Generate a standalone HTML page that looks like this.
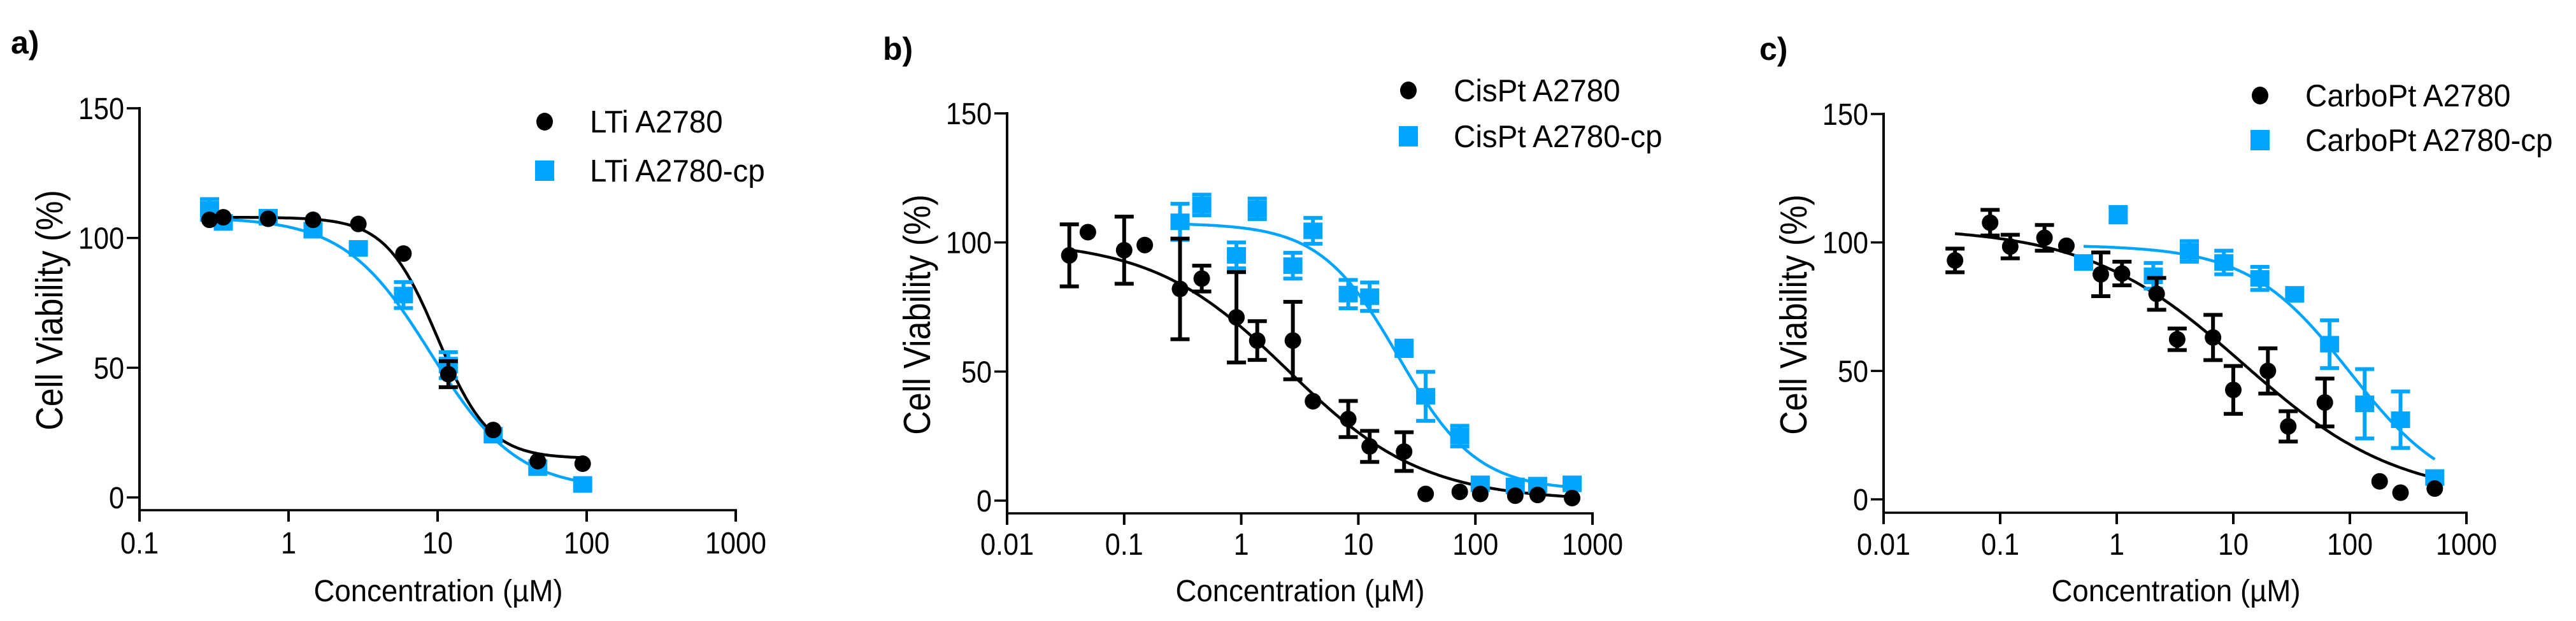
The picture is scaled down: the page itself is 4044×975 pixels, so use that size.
<!DOCTYPE html>
<html><head><meta charset="utf-8"><style>
html,body{margin:0;padding:0;background:#fff;overflow:hidden;}
svg{display:block;}
</style></head><body>
<svg id="fig" width="4044" height="975" viewBox="0 0 4044 975" xmlns="http://www.w3.org/2000/svg"></svg>
<script>
// Panel a: LTi
const aBlackX=[0.295,0.365,0.73,1.46,2.94,5.9,11.8,23.6,47,94];
const aBlackY=[107,108,107.4,107,105.4,94,47.5,26,14,13];
const aBlackErr=[0,0,0,0,0,0,5,0,0,0];
const aBlueX=[0.295,0.365,0.73,1.46,2.94,5.9,11.8,23.6,47,94];
const aBlueY=[111,106,108,103,96,78,51,24,11.5,5];
const aBlueErr=[4,0,0,0,0,5,5,0,0,0];
const aBlackFit=[108,15,10,2.5];
const aBlueFit=[108,3,9,1.5];
// Panel b: CisPt
const bBlackX=[0.034,0.049,0.1,0.15,0.30,0.46,0.91,1.37,2.76,4.1,8.2,12.5,24.6,37.6,73.5,110,219,340,670];
const bBlackY=[95,104,97,99,82,86,71,62,62,38.5,31.6,21,19,2.6,3.4,2.6,1.9,2.2,1];
const bBlackErr=[12,0,13,0,19.5,5,17.5,7.5,15,0,7,6,7.5,0,0,0,0,0,0];
const bBlueX=[0.30,0.46,0.91,1.37,2.76,4.1,8.2,12.5,24.6,37.6,73.5,110,219,340,670];
const bBlueY=[108,114.5,95,113,91,104.5,80,79,59,40.4,25,6.5,5.7,6,6.5];
const bBlueErr=[7,4,5,4,5,5,5.5,5.5,3,9.5,4,0,0,0,0];
const bBlackFit=[101,0,2.5,0.75];
const bBlueFit=[107.5,4,22,1.3];
// Panel c: CarboPt
const cBlackX=[0.041,0.082,0.122,0.24,0.37,0.73,1.11,2.2,3.3,6.7,10,19.8,29.6,61,180,272,535];
const cBlackY=[93,107.7,98.4,101.8,98.7,87.6,87.9,80,62.3,63,42.6,50,28.4,37.7,7,2.6,4.2];
const cBlackErr=[4.6,5,4.6,5,0,8.5,4.6,6.2,4.2,8.8,9.3,8.8,5.9,9.3,0,0,0];
const cBlueX=[0.52,1.03,2.06,4.2,8.3,16.9,33.6,67,134,272,535];
const cBlueY=[92.2,110.8,87,96.5,92.2,86,79.8,60.4,37.2,31,8.5];
const cBlueErr=[0,3,5,4,4.6,4.5,0,9.3,13.5,11,0];
const cBlackFit=[106,0,12,0.65];
const cBlueFit=[99,0,100,1.0];

const yTicks=[0,50,100,150];
const aXTicks=["0.1","1","10","100","1000"];
const bcXTicks=["0.01","0.1","1","10","100","1000"];

const NS="http://www.w3.org/2000/svg";
const svg=document.getElementById('fig');
const BLUE="#00a5ff";
function mk(tag,attrs,parent){const e=document.createElementNS(NS,tag);for(const k in attrs)e.setAttribute(k,attrs[k]);(parent||svg).appendChild(e);return e;}
function ctext(str,x,y,anchor,size,sx,parent,weight){
  const t=mk('text',{transform:`translate(${x},${y}) scale(${sx},1)`,'text-anchor':anchor,'font-family':'"Liberation Sans",Arial,sans-serif','font-size':size,fill:'#000'},parent);
  if(weight)t.setAttribute('font-weight',weight);
  t.textContent=str;return t;
}

function panel(cfg){
  const g=mk('g',{});
  
  
  const xs=v=>cfg.ax+(Math.log10(v)-cfg.lmin)*(cfg.axEnd-cfg.ax)/(cfg.ticks.length-1);
  const ys=v=>cfg.y0+(cfg.y150-cfg.y0)*v/150;
  const lab=ctext(cfg.label,cfg.labX,cfg.labY,'start',50,1,g,'bold');
  
  
  const ya=mk('line',{x1:cfg.ax,y1:cfg.y150-2,x2:cfg.ax,y2:cfg.xAxisY+2,stroke:'#000','stroke-width':4},g);
  
  
  const xa=mk('line',{x1:cfg.ax-2,y1:cfg.xAxisY,x2:cfg.axEnd+2,y2:cfg.xAxisY,stroke:'#000','stroke-width':3.5},g);
  
  
  yTicks.forEach(v=>{
    const y=ys(v);
    mk('line',{x1:cfg.ax-20,y1:y,x2:cfg.ax,y2:y,stroke:'#000','stroke-width':3.5},g);
    const t=ctext(String(v),cfg.ax-24,y+17,'end',48,0.9,g);
    
    
  });
  cfg.ticks.forEach((s,i)=>{
    const x=cfg.ax+i*(cfg.axEnd-cfg.ax)/(cfg.ticks.length-1);
    mk('line',{x1:x,y1:cfg.xAxisY,x2:x,y2:cfg.xAxisY+18,stroke:'#000','stroke-width':4},g);
    const t=ctext(s,x,cfg.xtlY,'middle',48,0.9,g);
    
    
  });
  const yt=mk('text',{transform:`translate(${cfg.ytX},${cfg.ytY}) rotate(-90) scale(1,1.15)`,'text-anchor':'middle','font-family':'"Liberation Sans",Arial,sans-serif','font-size':52,fill:'#000'},g);
  yt.textContent='Cell Viability (%)';
  
  
  const xt=ctext('Concentration (\u00b5M)',cfg.xtX,cfg.xtY,'middle',48,0.95,g);
  
  
  function curve(X,fit,color,nm){
    const lo=Math.log10(X[0]),hi=Math.log10(X[X.length-1]);let d='';
    for(let i=0;i<=200;i++){const lx=lo+(hi-lo)*i/200,x=Math.pow(10,lx);
      const y=fit[1]+(fit[0]-fit[1])/(1+Math.pow(x/fit[2],fit[3]));
      d+=(i?'L':'M')+xs(x).toFixed(1)+','+ys(y).toFixed(1);}
    const p=mk('path',{d:d,fill:'none',stroke:color,'stroke-width':4.5},g);
    
    
  }
  curve(cfg.bkX,cfg.bkFit,'#000','fit-curve-black');
  curve(cfg.blX,cfg.blFit,BLUE,'fit-curve-blue');
  function series(X,Y,E,color,shape,nm){
    X.forEach((xv,i)=>{
      const x=xs(xv),y=ys(Y[i]);
      if(E[i]>0){const y1=ys(Y[i]+E[i]),y2=ys(Y[i]-E[i]);
        const eb=mk('path',{d:`M${x},${y1}L${x},${y2}M${x-15},${y1}L${x+15},${y1}M${x-15},${y2}L${x+15},${y2}`,stroke:color,'stroke-width':6,fill:'none'},g);
        
        }
      let m;
      if(shape==='c')m=mk('ellipse',{cx:x,cy:y,rx:13,ry:13,fill:color},g);
      else m=mk('rect',{x:x-15,y:y-13,width:30,height:26,fill:color},g);
      
      
    });
  }
  series(cfg.blX,cfg.blY,cfg.blE,BLUE,'s','point-blue');
  series(cfg.bkX,cfg.bkY,cfg.bkE,'#000','c','point-black');
  const lc=mk('ellipse',{cx:cfg.lgX,cy:cfg.lg1,rx:13,ry:14,fill:'#000'},g);
  
  
  const l1=ctext(cfg.names[0],cfg.lgTX,cfg.lg1+17,'start',49,0.97,g);
  
  
  const ls=mk('rect',{x:cfg.lgX-15,y:cfg.lg2-16,width:30,height:32,fill:BLUE},g);
  
  
  const l2=ctext(cfg.names[1],cfg.lgTX,cfg.lg2+17,'start',49,0.97,g);
  
  
}

panel({name:'panel-a',label:'a)',labX:17,labY:84,ax:219,axEnd:1155,lmin:-1,ticks:aXTicks,y0:781,y150:170,xAxisY:801,xtlY:869,
  ytX:98,ytY:487,xtX:688,xtY:944,bkX:aBlackX,bkY:aBlackY,bkE:aBlackErr,blX:aBlueX,blY:aBlueY,blE:aBlueErr,bkFit:aBlackFit,blFit:aBlueFit,
  lgX:855,lgTX:926,lg1:191,lg2:268,names:['LTi A2780','LTi A2780-cp']});
panel({name:'panel-b',label:'b)',labX:1386,labY:94,ax:1581,axEnd:2500,lmin:-2,ticks:bcXTicks,y0:786,y150:178,xAxisY:806,xtlY:871,
  ytX:1460,ytY:494,xtX:2041,xtY:944,bkX:bBlackX,bkY:bBlackY,bkE:bBlackErr,blX:bBlueX,blY:bBlueY,blE:bBlueErr,bkFit:bBlackFit,blFit:bBlueFit,
  lgX:2211,lgTX:2282,lg1:142,lg2:214,names:['CisPt A2780','CisPt A2780-cp']});
panel({name:'panel-c',label:'c)',labX:2762,labY:94,ax:2957,axEnd:3872,lmin:-2,ticks:bcXTicks,y0:784,y150:179,xAxisY:805,xtlY:871,
  ytX:2836,ytY:494,xtX:3416,xtY:944,bkX:cBlackX,bkY:cBlackY,bkE:cBlackErr,blX:cBlueX,blY:cBlueY,blE:cBlueErr,bkFit:cBlackFit,blFit:cBlueFit,
  lgX:3548,lgTX:3619,lg1:150,lg2:220,names:['CarboPt A2780','CarboPt A2780-cp']});
</script>
</body></html>
